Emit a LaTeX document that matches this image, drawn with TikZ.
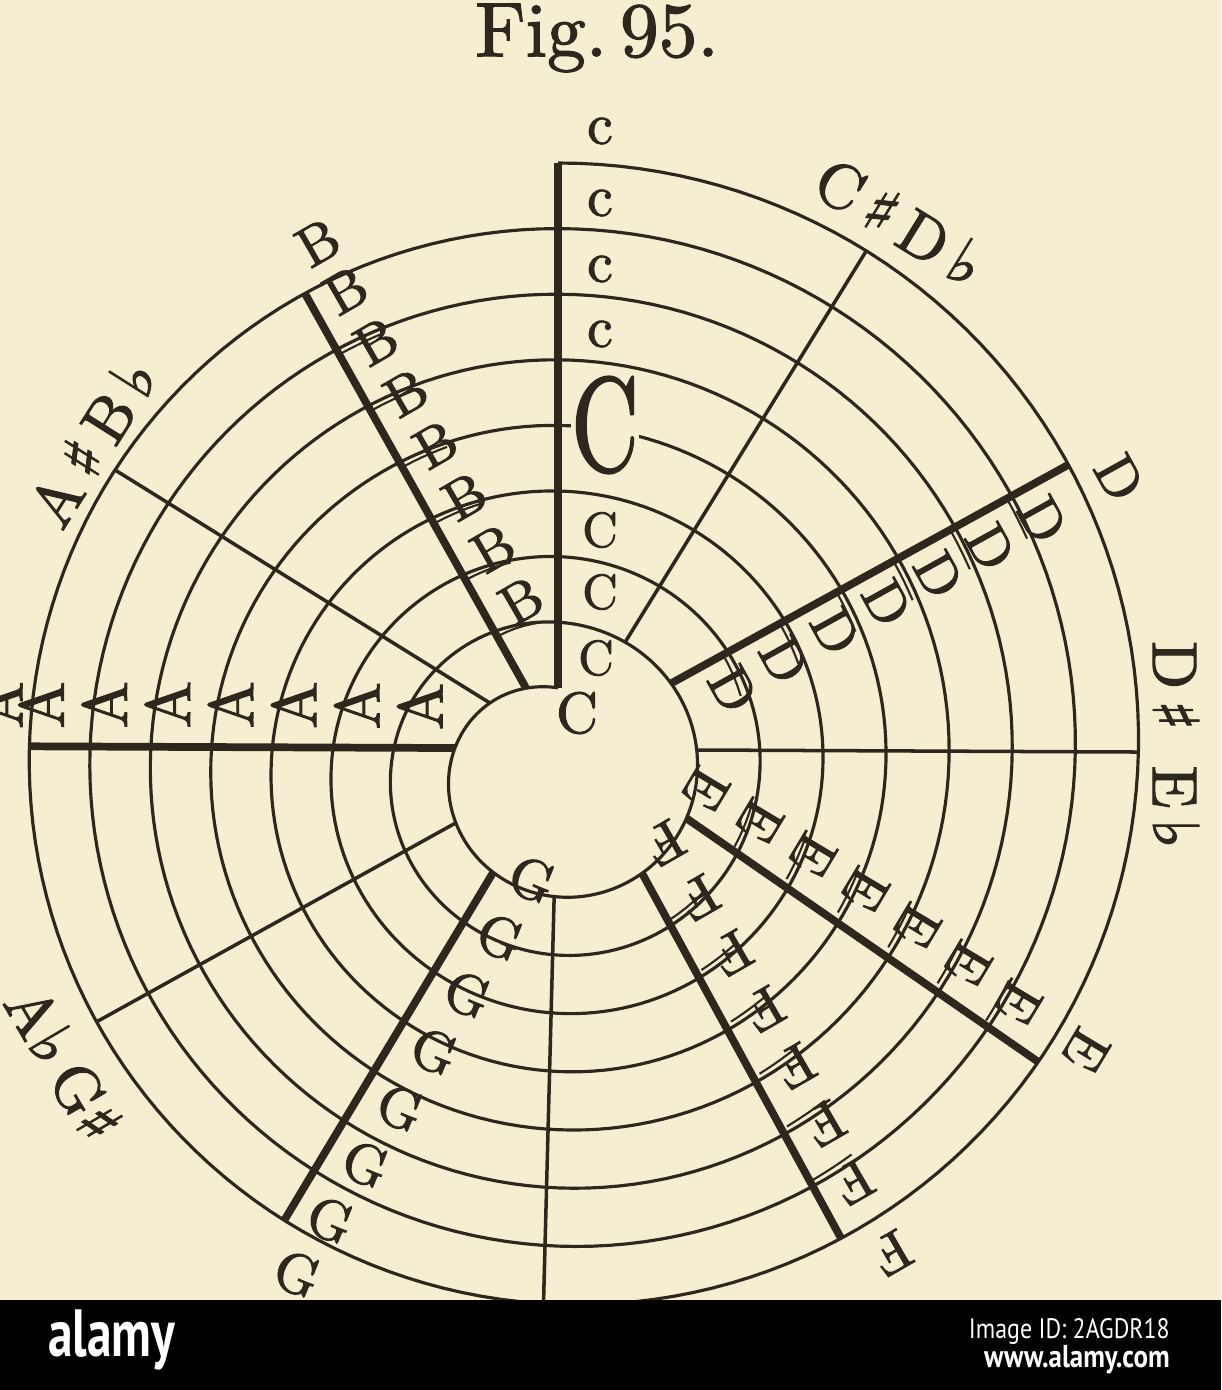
\documentclass[tikz,border=0pt]{standalone}
\usepackage{fontspec}
\newfontfamily\bannerfont{PT Sans}
\newfontfamily\musicfont{DejaVu Sans}[FakeBold=1.2]
\newfontfamily\labfont{lmroman10-regular.otf}[FakeBold=1.6]
\definecolor{paper}{RGB}{245,238,209}
\definecolor{ink}{RGB}{46,39,29}
% spiral radius about L=(558,750), phi clockwise from up
\newcommand\spR[1]{(585.2+1.8*cos(#1)+11*sin(#1)-(61.9+3.7*cos(#1)+1.2*sin(#1))*((#1)/360))}
\newcommand\spX[1]{(558+\spR{#1}*sin(#1))}
\newcommand\spY[1]{(750-\spR{#1}*cos(#1))}
\newcommand\shp{{\musicfont\char"266F}}
\newcommand\flt{{\musicfont\char"266D}}
% radial line: name, outer angle, inner angle, style
\newcommand\spoke[4]{%
  \pgfmathsetmacro\cpI{#3+2520}%
  \coordinate (#1o) at ({\spX{#2}},{\spY{#2}});%
  \coordinate (#1i) at ({\spX{\cpI}},{\spY{\cpI}});%
  \draw[#4] (#1i) -- (#1o);%
}
% column of letters: outer angle, inner angle, signed offset, rotation, text, outer gap, name
\newcommand\notecol[7]{%
  \foreach \k in {0,...,6}{%
    \pgfmathsetmacro\cth{#1+((#2)-(#1))*(\k+0.5)/7}%
    \pgfmathsetmacro\cph{\cth+360*\k+180}%
    \pgfmathsetmacro\crr{\spR{\cph}}%
    \node[lab,rotate=#4] (#7\k) at ({558+\crr*sin(\cth)+(#3)*cos(\cth)},{750-\crr*cos(\cth)+(#3)*sin(\cth)}) {#5};%
  }%
  \pgfmathsetmacro\crr{\spR{#1}+#6}%
  \node[lab,rotate=#4] (#7o) at ({558+\crr*sin(#1)+(#3)*cos(#1)},{750-\crr*cos(#1)+(#3)*sin(#1)}) {#5};%
}
% doubled arcs beside a letter column: outer angle, inner angle, side (+1/-1)
\newcommand\boxticks[3]{%
  \foreach \k in {1,...,6}{%
    \pgfmathsetmacro\cth{#1+((#2)-(#1))*\k/7}%
    \pgfmathsetmacro\cph{\cth+360*\k}%
    \pgfmathsetmacro\crr{\spR{\cph}-5.5}%
    \pgfmathsetmacro\cend{\cth+(#3)*46/\crr*57.3}%
    \draw[tickline] plot[domain=\cth:\cend,samples=6,variable=\u] ({558+\crr*sin(\u)},{750-\crr*cos(\u)});%
  }%
}
\begin{document}
\begin{tikzpicture}[x=0.02cm,y=-0.02cm,
  thinline/.style={line width=2pt,draw=ink},
  boldline/.style={line width=4.4pt,draw=ink},
  spiral/.style={line width=1.8pt,draw=ink,line join=round},
  tickline/.style={line width=1.2pt,draw=ink},
  lab/.style={inner sep=0pt,text=ink,font=\labfont\fontsize{32}{32}\selectfont},
  ]
\fill[paper] (0,0) rectangle (1221,1390);
\useasboundingbox (0,0) rectangle (1221,1390);

% title
\node[text=ink,font=\labfont\fontsize{44}{44}\selectfont] (title) at (597,38) {Fig.\,95.};

% the spiral, eight turns
\draw[spiral] plot[domain=0:2880,samples=1441,variable=\t] ({\spX{\t}},{\spY{\t}});

% radial lines
\coordinate (co) at ({\spX{0}},{\spY{0}});
\coordinate (ci) at ({\spX{2880}},{\spY{2880}});
\draw[boldline] (ci) -- (co);
\spoke{cs}{31.7}{31.9}{thinline}
\spoke{d}{60.8}{59.5}{boldline}
\spoke{ds}{90.2}{90}{thinline}
\spoke{e}{123}{118}{boldline}
\spoke{f}{149.9}{145.7}{boldline}
\spoke{fs}{181.5}{181.5}{thinline}
\spoke{g}{210.2}{207.9}{boldline}
\spoke{gs}{239.5}{234.5}{thinline}
\spoke{a}{270.4}{271.1}{boldline}
\spoke{as}{302.3}{304.6}{thinline}
\spoke{b}{331}{332.7}{boldline}

% doubled arcs at the boxed letters
\boxticks{60.8}{59.5}{1}
\boxticks{123}{118}{-1}
\boxticks{149.9}{145.7}{-1}
\boxticks{331}{332.7}{1}

% C column
\node[lab,font=\labfont\fontsize{33}{33}\selectfont] (Co) at (600,131) {c};
\node[lab,font=\labfont\fontsize{33}{33}\selectfont] (C0) at (600,203) {c};
\node[lab,font=\labfont\fontsize{33}{33}\selectfont] (C1) at (600,269) {c};
\node[lab,font=\labfont\fontsize{33}{33}\selectfont] (C2) at (600,334) {c};
\node[lab,fill=paper,font=\labfont\fontsize{76}{76}\selectfont] (C3) at (605,425) {\scalebox{0.7}[1]{C}};
\node[lab,font=\labfont\fontsize{28}{28}\selectfont] (C5) at (600,530) {C};
\node[lab,font=\labfont\fontsize{28}{28}\selectfont] (C6) at (600,592) {C};
\node[lab,font=\labfont\fontsize{28}{28}\selectfont] (C7) at (596,658) {C};
\node[lab,font=\labfont\fontsize{33}{33}\selectfont] (Cc) at (577,713) {C};

% natural note columns
\notecol{60.8}{59.5}{36}{-61}{D}{38}{D}
\notecol{123}{118}{-36}{-121}{E}{34}{E}
\notecol{149.9}{145.7}{-36}{-150}{F}{38}{F}
\notecol{210.2}{207.9}{-38}{-22}{G}{40}{G}
\begin{scope}[lab/.append style={font=\labfont\fontsize{36}{36}\selectfont}]
\notecol{270.4}{271.1}{41}{90}{A}{30}{A}
\end{scope}
\notecol{331}{332.7}{36}{30}{B}{38}{B}

% sharp / flat labels
\begin{scope}[lab/.append style={font=\labfont\fontsize{36}{36}\selectfont}]
\node[lab,rotate=-31.7] (CsDb) at (900,222) {C\,\shp\,D\,\flt};
\node[lab,rotate=-90] (DsEb) at (1176,745) {D\,\shp\;\;E\,\flt};
\node[lab,rotate=-59.5] (AbGs) at (64,1064) {A\flt\,G\shp};
\node[lab,rotate=57.7] (AsBb) at (92,442) {A\,\shp\,B\,\flt};
\end{scope}

% banner
\fill[black] (0,1300) rectangle (1221,1390);
\node[text=white,anchor=west,inner sep=0pt,font=\bannerfont\bfseries\fontsize{38}{38}\selectfont] (logo) at (48,1340) {\scalebox{0.74}[1]{alamy}};
\node[text=white,anchor=east,inner sep=0pt,font=\bannerfont\fontsize{16}{16}\selectfont] (imgid) at (1170,1331) {\scalebox{0.85}[1]{Image ID: 2AGDR18}};
\node[text=white,anchor=east,inner sep=0pt,font=\bannerfont\bfseries\fontsize{18}{18}\selectfont] (www) at (1170,1360) {\scalebox{0.85}[1]{www.alamy.com}};
\end{tikzpicture}
\end{document}
